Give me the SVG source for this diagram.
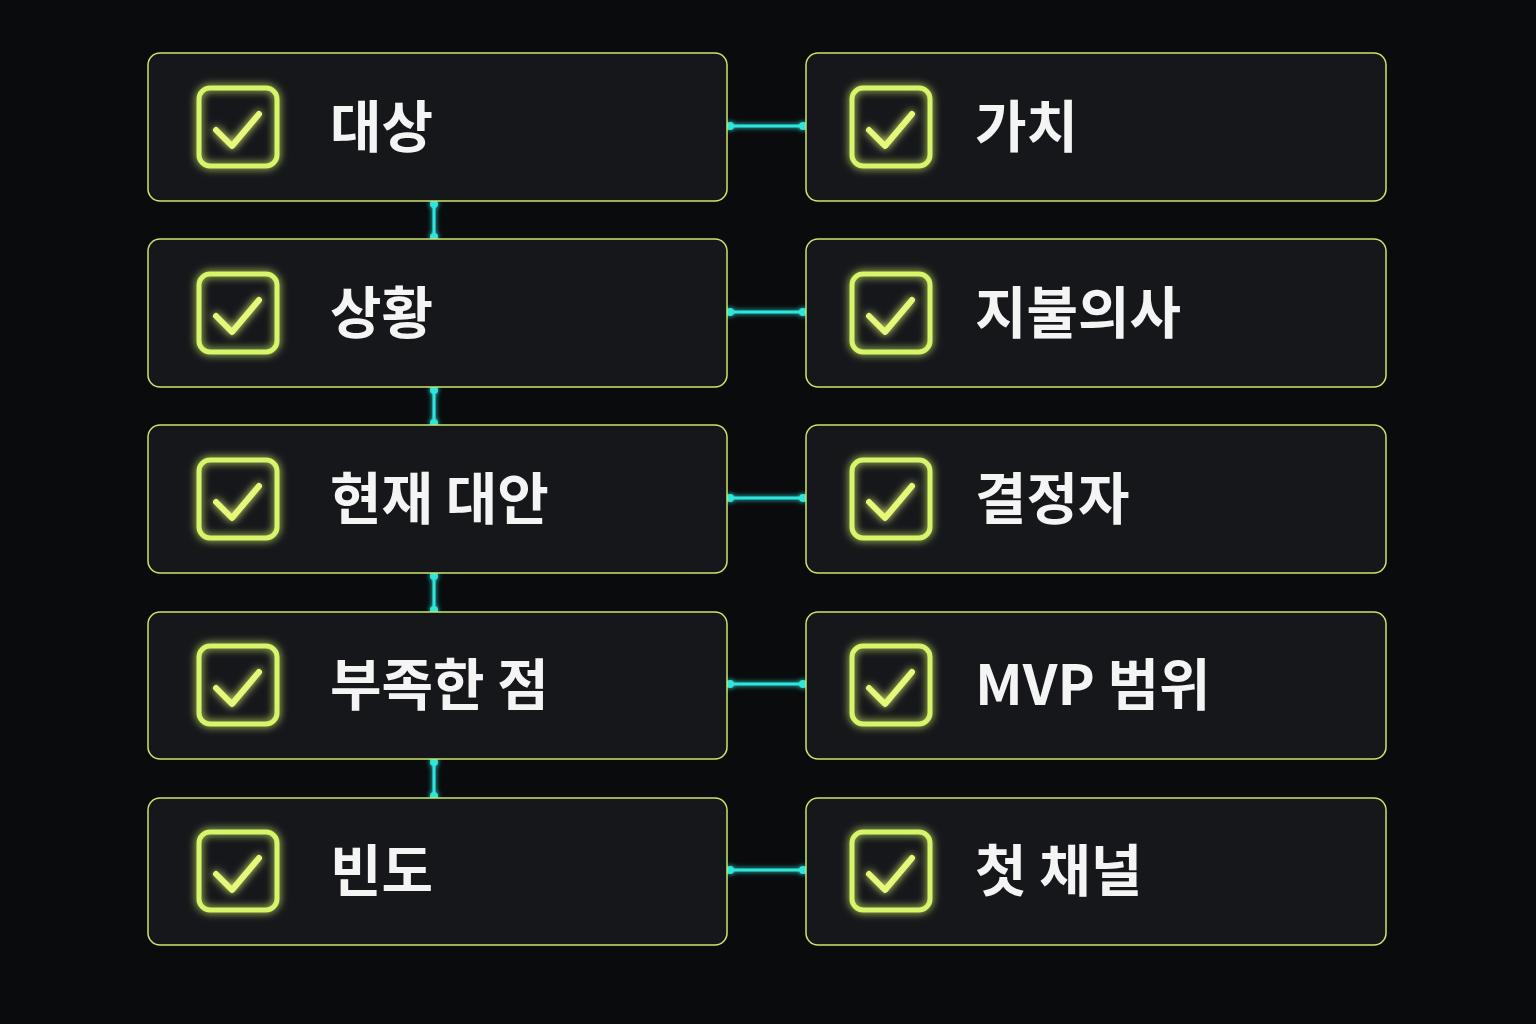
<svg xmlns="http://www.w3.org/2000/svg" width="1536" height="1024" viewBox="0 0 1536 1024">
<defs>
<filter id="glow" x="-30%" y="-30%" width="160%" height="160%"><feGaussianBlur stdDeviation="4" result="b"/><feMerge><feMergeNode in="b"/><feMergeNode in="SourceGraphic"/></feMerge></filter>
<filter id="cglow" x="-30%" y="-30%" width="160%" height="160%"><feGaussianBlur stdDeviation="2.5" result="b"/><feMerge><feMergeNode in="b"/><feMergeNode in="SourceGraphic"/></feMerge></filter>
<g id="chk"><rect x="0" y="0" width="78" height="78" rx="11" fill="none" stroke="#d6f56a" stroke-width="5"/><path d="M17 42 L33 58 L60 26" fill="none" stroke="#e6f87a" stroke-width="6" stroke-linecap="round" stroke-linejoin="round"/></g>
</defs>
<style>
.box{fill:#15171b;stroke:#c9e86a;stroke-width:1.5}
.t{font-family:"Noto Sans CJK KR","Noto Sans",sans-serif;font-weight:700;font-size:56px;fill:#f4f4f4}
.c{stroke:#2ee6dc;stroke-width:3;fill:none}
.d{fill:#2ee6dc}
</style>
<rect width="1536" height="1024" fill="#0a0b0d"/>
<g id="connectors" filter="url(#cglow)">
<g class="c"><path d="M727 126H806M727 312H806M727 498H806M727 684H806M727 870H806M434 201V239M434 387V425M434 573V612M434 759V798"/></g>
<g class="d">
<circle cx="730" cy="126" r="4"/><circle cx="803" cy="126" r="4"/>
<circle cx="730" cy="312" r="4"/><circle cx="803" cy="312" r="4"/>
<circle cx="730" cy="498" r="4"/><circle cx="803" cy="498" r="4"/>
<circle cx="730" cy="684" r="4"/><circle cx="803" cy="684" r="4"/>
<circle cx="730" cy="870" r="4"/><circle cx="803" cy="870" r="4"/>
<circle cx="434" cy="204" r="4"/><circle cx="434" cy="237" r="4"/>
<circle cx="434" cy="390" r="4"/><circle cx="434" cy="423" r="4"/>
<circle cx="434" cy="576" r="4"/><circle cx="434" cy="610" r="4"/>
<circle cx="434" cy="762" r="4"/><circle cx="434" cy="796" r="4"/>
</g>
</g>
<g id="n1"><rect class="box" x="148" y="53" width="579" height="148" rx="12"/><use href="#chk" x="199" y="88" filter="url(#glow)"/><text class="t" x="330" y="147">대상</text></g>
<g id="n2"><rect class="box" x="806" y="53" width="580" height="148" rx="12"/><use href="#chk" x="852" y="88" filter="url(#glow)"/><text class="t" x="975" y="147">가치</text></g>
<g id="n3"><rect class="box" x="148" y="239" width="579" height="148" rx="12"/><use href="#chk" x="199" y="274" filter="url(#glow)"/><text class="t" x="330" y="333">상황</text></g>
<g id="n4"><rect class="box" x="806" y="239" width="580" height="148" rx="12"/><use href="#chk" x="852" y="274" filter="url(#glow)"/><text class="t" x="975" y="333">지불의사</text></g>
<g id="n5"><rect class="box" x="148" y="425" width="579" height="148" rx="12"/><use href="#chk" x="199" y="460" filter="url(#glow)"/><text class="t" x="330" y="519">현재 대안</text></g>
<g id="n6"><rect class="box" x="806" y="425" width="580" height="148" rx="12"/><use href="#chk" x="852" y="460" filter="url(#glow)"/><text class="t" x="975" y="519">결정자</text></g>
<g id="n7"><rect class="box" x="148" y="612" width="579" height="147" rx="12"/><use href="#chk" x="199" y="646" filter="url(#glow)"/><text class="t" x="330" y="705">부족한 점</text></g>
<g id="n8"><rect class="box" x="806" y="612" width="580" height="147" rx="12"/><use href="#chk" x="852" y="646" filter="url(#glow)"/><text class="t" x="975" y="705">MVP 범위</text></g>
<g id="n9"><rect class="box" x="148" y="798" width="579" height="147" rx="12"/><use href="#chk" x="199" y="832" filter="url(#glow)"/><text class="t" x="330" y="891">빈도</text></g>
<g id="n10"><rect class="box" x="806" y="798" width="580" height="147" rx="12"/><use href="#chk" x="852" y="832" filter="url(#glow)"/><text class="t" x="975" y="891">첫 채널</text></g>
</svg>
